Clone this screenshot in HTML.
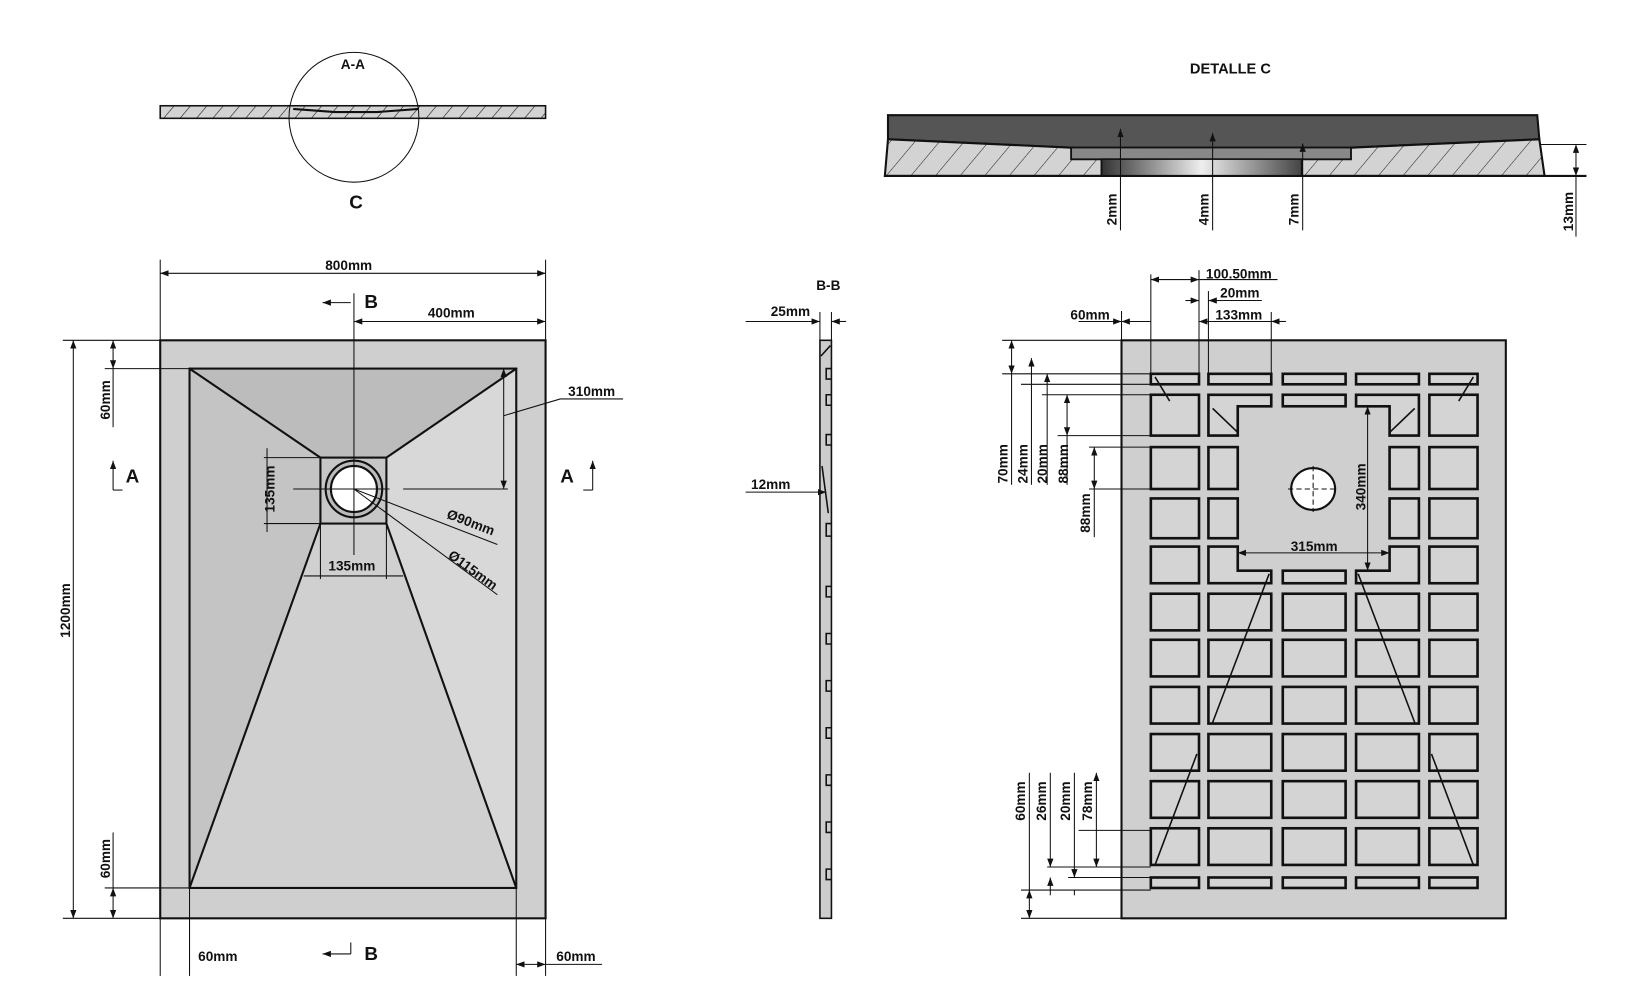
<!DOCTYPE html>
<html><head><meta charset="utf-8"><style>
html,body{margin:0;padding:0;background:#fff;}
svg{display:block;}
text{font-family:"Liberation Sans",Arial,sans-serif;font-weight:bold;font-size:13px;fill:#111;}
text.big{font-size:18px;}
text.t14{font-size:14px;}
</style></head><body>
<svg width="1643" height="1000" viewBox="0 0 1569 955" preserveAspectRatio="none" xmlns="http://www.w3.org/2000/svg">
<defs>
<pattern id="h" width="12" height="12" patternUnits="userSpaceOnUse" patternTransform="rotate(40)">
<rect width="12" height="12" fill="#d3d3d3"/><line x1="0" y1="0" x2="0" y2="12" stroke="#222" stroke-width="1.2"/>
</pattern>
<pattern id="h2" width="18" height="18" patternUnits="userSpaceOnUse" patternTransform="rotate(40)">
<rect width="18" height="18" fill="#d3d3d3"/><line x1="0" y1="0" x2="0" y2="18" stroke="#222" stroke-width="1"/>
</pattern>
<linearGradient id="cyl" x1="0" x2="1"><stop offset="0" stop-color="#333"/><stop offset="0.5" stop-color="#eee"/><stop offset="1" stop-color="#444"/></linearGradient>
<marker id="a" markerWidth="8" markerHeight="6" refX="8" refY="3" orient="auto-start-reverse"><path d="M0,0 L8,3 L0,6z" fill="#111"/></marker>
</defs>
<g stroke="#111" stroke-width="1" fill="none">

<!-- A-A section -->
<rect x="153" y="101" width="368" height="12" fill="url(#h)" stroke-width="1.5"/>
<path d="M280 104 L320 107 L360 107 L400 104" stroke-width="2"/>
<circle cx="338" cy="112" r="62"/>

<!-- Main plan view -->
<rect x="153" y="325" width="368" height="552" fill="#cfcfcf" stroke-width="2"/>
<polygon points="181,352 181,848 306,500 306,437" fill="#c4c4c4"/>
<polygon points="493,352 493,848 369,500 369,437" fill="#d8d8d8"/>
<polygon points="181,848 493,848 369,500 306,500" fill="#d0d0d0"/>
<polygon points="181,352 493,352 369,437 306,437" fill="#bcbcbc"/>
<g stroke-width="2"><rect x="181" y="352" width="312" height="496"/>
<line x1="181" y1="352" x2="306" y2="437"/><line x1="493" y1="352" x2="369" y2="437"/>
<line x1="181" y1="848" x2="306" y2="500"/><line x1="493" y1="848" x2="369" y2="500"/>
<rect x="306" y="437" width="63" height="63" fill="#c6c6c6"/>
<circle cx="338" cy="467" r="27" fill="#bbb"/><circle cx="338" cy="467" r="22" fill="#fff"/></g>
<line x1="338" y1="280" x2="338" y2="530"/>
<line x1="280" y1="467" x2="372" y2="467"/><line x1="385" y1="467" x2="485" y2="467"/>
<!-- dims left -->
<line x1="60" y1="325" x2="153" y2="325"/><line x1="60" y1="877" x2="153" y2="877"/>
<line x1="100" y1="352" x2="181" y2="352"/><line x1="100" y1="848" x2="181" y2="848"/>
<line x1="70" y1="325" x2="70" y2="877" marker-start="url(#a)" marker-end="url(#a)"/>
<line x1="108" y1="325" x2="108" y2="352" marker-start="url(#a)" marker-end="url(#a)"/><line x1="108" y1="352" x2="108" y2="408"/>
<line x1="108" y1="848" x2="108" y2="877" marker-start="url(#a)" marker-end="url(#a)"/><line x1="108" y1="795" x2="108" y2="848"/>
<line x1="153" y1="248" x2="153" y2="325"/><line x1="521" y1="248" x2="521" y2="325"/>
<line x1="153" y1="261" x2="521" y2="261" marker-start="url(#a)" marker-end="url(#a)"/>
<line x1="338" y1="307" x2="521" y2="307" marker-start="url(#a)" marker-end="url(#a)"/>
<line x1="153" y1="877" x2="153" y2="932"/><line x1="181" y1="848" x2="181" y2="932"/>
<line x1="493" y1="848" x2="493" y2="932"/><line x1="521" y1="877" x2="521" y2="932"/>
<line x1="493" y1="921" x2="521" y2="921" marker-start="url(#a)" marker-end="url(#a)"/><line x1="521" y1="921" x2="575" y2="921"/>
<line x1="308" y1="289" x2="335" y2="289" marker-start="url(#a)"/>
<line x1="308" y1="911" x2="335" y2="911" marker-start="url(#a)"/><line x1="335" y1="900" x2="335" y2="911"/>
<line x1="108" y1="468" x2="108" y2="440" marker-end="url(#a)"/><line x1="108" y1="468" x2="117" y2="468"/>
<line x1="566" y1="468" x2="566" y2="440" marker-end="url(#a)"/><line x1="557" y1="468" x2="566" y2="468"/>
<line x1="481" y1="352" x2="481" y2="467" marker-start="url(#a)" marker-end="url(#a)"/>
<polyline points="481,397 535,381 595,381"/>
<line x1="306" y1="500" x2="306" y2="553"/><line x1="369" y1="500" x2="369" y2="553"/>
<line x1="290" y1="550" x2="385" y2="550"/>
<line x1="252" y1="437" x2="306" y2="437"/><line x1="252" y1="500" x2="306" y2="500"/>
<line x1="255" y1="428" x2="255" y2="508"/>
<line x1="338" y1="467" x2="475" y2="520"/><line x1="338" y1="467" x2="475" y2="568"/>

<!-- Detalle C -->
<polygon points="848,110 1468,110 1470,133 1290,141 1023,141 848,133" fill="#555" stroke-width="2"/>
<polygon points="848,133 1023,141 1023,152 1052,152 1052,168 845,168" fill="url(#h2)" stroke-width="2"/>
<polygon points="1470,133 1290,141 1290,152 1243,152 1243,168 1475,168" fill="url(#h2)" stroke-width="2"/>
<rect x="1023" y="141" width="267" height="11" fill="#888" stroke-width="1.5"/>
<rect x="1052" y="152" width="191" height="16" fill="url(#cyl)" stroke-width="1.5"/>
<line x1="845" y1="168" x2="1515" y2="168" stroke-width="2"/>
<line x1="1470" y1="138" x2="1515" y2="138"/>
<line x1="1505" y1="138" x2="1505" y2="168" marker-start="url(#a)" marker-end="url(#a)"/><line x1="1505" y1="168" x2="1505" y2="226"/>
<line x1="1070" y1="220" x2="1070" y2="123" marker-end="url(#a)"/>
<line x1="1158" y1="220" x2="1158" y2="127" marker-end="url(#a)"/>
<line x1="1244" y1="220" x2="1244" y2="137" marker-end="url(#a)"/>

<!-- B-B -->
<rect x="783" y="325" width="11" height="552" fill="#ccc" stroke-width="1.5"/>
<g stroke-width="1.5">
<path d="M794 352 h-5 v10 h5 M794 377 h-5 v10 h5 M794 415 h-5 v10 h5 M794 500 h-5 v12 h5 M794 560 h-5 v10 h5 M794 605 h-5 v10 h5 M794 650 h-5 v10 h5 M794 695 h-5 v10 h5 M794 740 h-5 v10 h5 M794 785 h-5 v10 h5 M794 830 h-5 v10 h5"/>
<line x1="785" y1="445" x2="791" y2="490"/><line x1="784" y1="340" x2="793" y2="330"/></g>
<line x1="783" y1="298" x2="783" y2="325"/><line x1="794" y1="298" x2="794" y2="325"/>
<line x1="712" y1="307" x2="783" y2="307" marker-end="url(#a)"/><line x1="794" y1="307" x2="808" y2="307" marker-start="url(#a)"/>
<line x1="712" y1="470" x2="789" y2="470" marker-end="url(#a)"/>

<!-- Back view -->
<rect x="1071" y="325" width="367" height="552" fill="#cfcfcf" stroke-width="2"/>
<g fill="#d4d4d4" stroke-width="2.5">
<rect x="1099" y="357" width="46" height="10"/><rect x="1154" y="357" width="60" height="10"/><rect x="1225" y="357" width="60" height="10"/><rect x="1295" y="357" width="60" height="10"/><rect x="1365" y="357" width="46" height="10"/>
<rect x="1099" y="377" width="46" height="39"/>
<polygon points="1154,377 1214,377 1214,388 1182,388 1182,416 1154,416"/>
<rect x="1225" y="377" width="60" height="11"/>
<polygon points="1295,377 1355,377 1355,416 1327,416 1327,388 1295,388"/>
<rect x="1365" y="377" width="46" height="39"/>
<rect x="1099" y="427" width="46" height="40"/><rect x="1154" y="427" width="28" height="40"/><rect x="1327" y="427" width="28" height="40"/><rect x="1365" y="427" width="46" height="40"/>
<rect x="1099" y="476" width="46" height="38"/><rect x="1154" y="476" width="28" height="38"/><rect x="1327" y="476" width="28" height="38"/><rect x="1365" y="476" width="46" height="38"/>
<rect x="1099" y="522" width="46" height="35"/>
<polygon points="1154,522 1182,522 1182,545 1214,545 1214,557 1154,557"/>
<rect x="1225" y="545" width="60" height="12"/>
<polygon points="1327,522 1355,522 1355,557 1295,557 1295,545 1327,545"/>
<rect x="1365" y="522" width="46" height="35"/>
<g id="r"><rect x="1099" y="567" width="46" height="35"/><rect x="1154" y="567" width="60" height="35"/><rect x="1225" y="567" width="60" height="35"/><rect x="1295" y="567" width="60" height="35"/><rect x="1365" y="567" width="46" height="35"/></g>
<use href="#r" y="44"/><use href="#r" y="89"/><use href="#r" y="134"/><use href="#r" y="179"/><use href="#r" y="224"/>
<rect x="1099" y="838" width="46" height="10"/><rect x="1154" y="838" width="60" height="10"/><rect x="1225" y="838" width="60" height="10"/><rect x="1295" y="838" width="60" height="10"/><rect x="1365" y="838" width="46" height="10"/>
</g>
<g stroke-width="1.5">
<line x1="1103" y1="360" x2="1117" y2="383"/><line x1="1407" y1="360" x2="1393" y2="383"/>
<line x1="1158" y1="390" x2="1182" y2="413"/><line x1="1351" y1="390" x2="1327" y2="413"/>
<line x1="1212" y1="548" x2="1158" y2="690"/><line x1="1297" y1="548" x2="1351" y2="690"/>
<line x1="1143" y1="720" x2="1103" y2="826"/><line x1="1367" y1="720" x2="1407" y2="826"/>
</g>
<ellipse cx="1254" cy="467" rx="21" ry="20" fill="#fff" stroke-width="2"/>
<line x1="1230" y1="467" x2="1278" y2="467" stroke-dasharray="5,3"/><line x1="1254" y1="445" x2="1254" y2="489" stroke-dasharray="5,3"/>
<line x1="1071" y1="297" x2="1071" y2="325"/><line x1="1099" y1="262" x2="1099" y2="357"/>
<line x1="1145" y1="258" x2="1145" y2="357"/><line x1="1154" y1="278" x2="1154" y2="357"/><line x1="1214" y1="298" x2="1214" y2="357"/>
<line x1="1030" y1="307" x2="1071" y2="307" marker-end="url(#a)"/><line x1="1071" y1="307" x2="1099" y2="307" marker-start="url(#a)"/>
<line x1="1099" y1="267" x2="1145" y2="267" marker-start="url(#a)" marker-end="url(#a)"/><line x1="1145" y1="267" x2="1220" y2="267"/>
<line x1="1132" y1="287" x2="1145" y2="287" marker-end="url(#a)"/><line x1="1154" y1="287" x2="1168" y2="287" marker-start="url(#a)"/><line x1="1168" y1="287" x2="1205" y2="287"/>
<line x1="1145" y1="307" x2="1214" y2="307" marker-start="url(#a)"/><line x1="1214" y1="307" x2="1228" y2="307" marker-start="url(#a)"/>
<line x1="957" y1="325" x2="1071" y2="325"/><line x1="957" y1="357" x2="1099" y2="357"/>
<line x1="975" y1="367" x2="1099" y2="367"/><line x1="995" y1="377" x2="1099" y2="377"/>
<line x1="1010" y1="416" x2="1099" y2="416"/><line x1="1040" y1="427" x2="1099" y2="427"/>
<line x1="1040" y1="467" x2="1099" y2="467"/>
<line x1="966" y1="325" x2="966" y2="357" marker-start="url(#a)" marker-end="url(#a)"/><line x1="966" y1="357" x2="966" y2="463"/>
<line x1="985" y1="342" x2="985" y2="463" marker-start="url(#a)"/>
<line x1="1000" y1="357" x2="1000" y2="463" marker-start="url(#a)"/>
<line x1="1019" y1="377" x2="1019" y2="416" marker-start="url(#a)" marker-end="url(#a)"/><line x1="1019" y1="416" x2="1019" y2="463"/>
<line x1="1045" y1="427" x2="1045" y2="467" marker-start="url(#a)" marker-end="url(#a)"/><line x1="1045" y1="467" x2="1045" y2="513"/>
<line x1="1030" y1="793" x2="1099" y2="793"/><line x1="1000" y1="828" x2="1099" y2="828"/>
<line x1="1020" y1="838" x2="1099" y2="838"/><line x1="975" y1="850" x2="1099" y2="850"/>
<line x1="975" y1="877" x2="1071" y2="877"/>
<line x1="983" y1="738" x2="983" y2="850"/><line x1="983" y1="850" x2="983" y2="877" marker-start="url(#a)" marker-end="url(#a)"/>
<line x1="1003" y1="738" x2="1003" y2="828" marker-end="url(#a)"/><line x1="1003" y1="838" x2="1003" y2="855" marker-start="url(#a)"/>
<line x1="1026" y1="738" x2="1026" y2="838" marker-end="url(#a)"/><line x1="1026" y1="850" x2="1026" y2="855" />
<line x1="1047" y1="738" x2="1047" y2="828" marker-start="url(#a)" marker-end="url(#a)"/>
<line x1="1182" y1="528" x2="1327" y2="528" marker-start="url(#a)" marker-end="url(#a)"/>
<line x1="1306" y1="388" x2="1306" y2="545" marker-start="url(#a)" marker-end="url(#a)"/>
</g>

<text x="337" y="66" text-anchor="middle">A-A</text>
<text class="big" x="340" y="199" text-anchor="middle">C</text>
<text class="t14" x="1175" y="70" text-anchor="middle">DETALLE   C</text>
<text x="333" y="258" text-anchor="middle">800mm</text>
<text x="431" y="303" text-anchor="middle">400mm</text>
<text class="big" x="348" y="294">B</text>
<text class="big" x="348" y="917">B</text>
<text class="big" x="120" y="461">A</text>
<text class="big" x="535" y="461">A</text>
<text x="565" y="378" text-anchor="middle">310mm</text>
<text x="336" y="545" text-anchor="middle">135mm</text>
<text x="208" y="918" text-anchor="middle">60mm</text>
<text x="550" y="918" text-anchor="middle">60mm</text>
<text transform="translate(67,583) rotate(-90)" text-anchor="middle">1200mm</text>
<text transform="translate(105,382) rotate(-90)" text-anchor="middle">60mm</text>
<text transform="translate(105,820) rotate(-90)" text-anchor="middle">60mm</text>
<text transform="translate(262,467) rotate(-90)" text-anchor="middle">135mm</text>
<text transform="translate(448,503) rotate(21)" text-anchor="middle">Ø90mm</text>
<text transform="translate(449,548) rotate(36)" text-anchor="middle">Ø115mm</text>
<text x="791" y="277" text-anchor="middle">B-B</text>
<text x="736" y="302">25mm</text>
<text x="736" y="467" text-anchor="middle">12mm</text>
<text x="1041" y="305" text-anchor="middle">60mm</text>
<text x="1183" y="266" text-anchor="middle">100.50mm</text>
<text x="1184" y="284" text-anchor="middle">20mm</text>
<text x="1183" y="305" text-anchor="middle">133mm</text>
<text x="1255" y="526" text-anchor="middle">315mm</text>
<text transform="translate(1304,465) rotate(-90)" text-anchor="middle">340mm</text>
<text transform="translate(962,443) rotate(-90)" text-anchor="middle">70mm</text>
<text transform="translate(981,443) rotate(-90)" text-anchor="middle">24mm</text>
<text transform="translate(1000,443) rotate(-90)" text-anchor="middle">20mm</text>
<text transform="translate(1020,443) rotate(-90)" text-anchor="middle">88mm</text>
<text transform="translate(1041,490) rotate(-90)" text-anchor="middle">88mm</text>
<text transform="translate(979,765) rotate(-90)" text-anchor="middle">60mm</text>
<text transform="translate(999,765) rotate(-90)" text-anchor="middle">26mm</text>
<text transform="translate(1022,765) rotate(-90)" text-anchor="middle">20mm</text>
<text transform="translate(1043,765) rotate(-90)" text-anchor="middle">78mm</text>
<text transform="translate(1066,200) rotate(-90)" text-anchor="middle">2mm</text>
<text transform="translate(1154,200) rotate(-90)" text-anchor="middle">4mm</text>
<text transform="translate(1240,200) rotate(-90)" text-anchor="middle">7mm</text>
<text transform="translate(1502,202) rotate(-90)" text-anchor="middle">13mm</text>
</svg>
</body></html>
